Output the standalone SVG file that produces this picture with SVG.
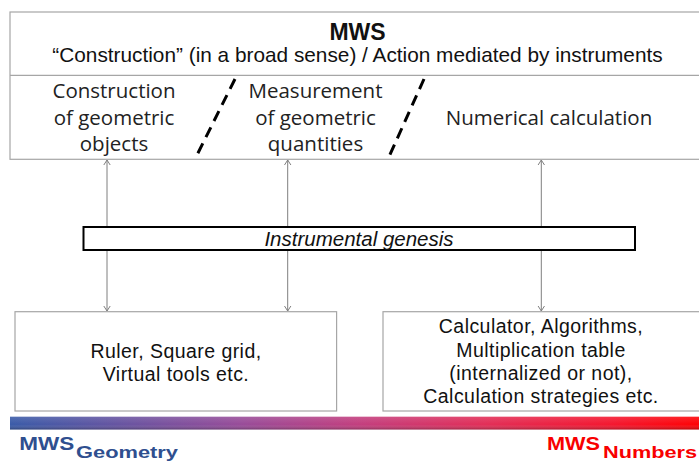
<svg xmlns="http://www.w3.org/2000/svg" width="699" height="462" viewBox="0 0 699 462">
  <defs>
    <style>
      .box { fill: #ffffff; stroke: #a6a6a6; stroke-width: 1.2; }
      .sep { stroke: #a6a6a6; stroke-width: 1.2; }
      .dash { stroke: #000000; stroke-width: 3; stroke-dasharray: 11 7; fill: none; }
      .conn { stroke: #7f7f7f; stroke-width: 1; fill: none; marker-start: url(#arr); marker-end: url(#arr); }
      .arial { font-family: "Liberation Sans", Arial, sans-serif; fill: #111111; }
      .cal { font-family: "Open Sans", "Noto Sans", sans-serif; font-size: 20.5px; fill: #222222; text-anchor: middle; }
      .body { font-size: 19.5px; letter-spacing: 0.45px; text-anchor: middle; }
      .leg { font-family: "Liberation Sans", Arial, sans-serif; font-weight: bold; }
    </style>
    <marker id="arr" viewBox="-6 -4 7 8" refX="0" refY="0" markerWidth="7" markerHeight="8" markerUnits="userSpaceOnUse" orient="auto-start-reverse">
      <path d="M-5,-3.2 L0,0 L-5,3.2" fill="none" stroke="#7f7f7f" stroke-width="1"/>
    </marker>
    <linearGradient id="bar" x1="0" y1="0" x2="1" y2="0">
      <stop offset="0" stop-color="#3a5ba8"/>
      <stop offset="0.33" stop-color="#984c99"/>
      <stop offset="0.5" stop-color="#c33e7e"/>
      <stop offset="0.68" stop-color="#e22e57"/>
      <stop offset="0.86" stop-color="#f4172f"/>
      <stop offset="1" stop-color="#ff0000"/>
    </linearGradient>
    <linearGradient id="shade" x1="0" y1="0" x2="0" y2="1">
      <stop offset="0" stop-color="#ffffff" stop-opacity="0.12"/>
      <stop offset="0.6" stop-color="#ffffff" stop-opacity="0"/>
      <stop offset="1" stop-color="#000000" stop-opacity="0.28"/>
    </linearGradient>
  </defs>

  <rect width="699" height="462" fill="#ffffff"/>

  <g id="mws-top">
    <rect class="box" x="10" y="12" width="700" height="147.3"/>
    <line class="sep" x1="10" y1="75.3" x2="710" y2="75.3"/>
    <text class="arial" x="357.5" y="40" font-size="23" font-weight="bold" text-anchor="middle">MWS</text>
    <text class="arial" x="357.5" y="62" font-size="20.8" text-anchor="middle">“Construction” (in a broad sense) / Action mediated by instruments</text>
    <line class="dash" x1="235" y1="79" x2="195" y2="159"/>
    <line class="dash" x1="424" y1="79" x2="388" y2="159"/>
    <text class="cal" x="114" y="98">Construction</text>
    <text class="cal" x="114" y="125">of geometric</text>
    <text class="cal" x="114" y="151">objects</text>
    <text class="cal" x="315.5" y="98">Measurement</text>
    <text class="cal" x="315.5" y="125">of geometric</text>
    <text class="cal" x="315.5" y="151">quantities</text>
    <text class="cal" x="549" y="125">Numerical calculation</text>
  </g>

  <g id="tools-geometry">
    <rect class="box" x="15" y="311.7" width="321.6" height="99.3"/>
    <text class="arial body" x="176" y="358">Ruler, Square grid,</text>
    <text class="arial body" x="176" y="381">Virtual tools etc.</text>
  </g>

  <g id="tools-numbers">
    <rect class="box" x="383" y="311.7" width="330" height="99.3"/>
    <text class="arial body" x="541" y="333">Calculator, Algorithms,</text>
    <text class="arial body" x="541" y="356.5">Multiplication table</text>
    <text class="arial body" x="541" y="380">(internalized or not),</text>
    <text class="arial body" x="541" y="403">Calculation strategies etc.</text>
  </g>

  <g id="connectors">
    <line class="conn" x1="107" y1="160" x2="107" y2="311"/>
    <line class="conn" x1="287.7" y1="160" x2="287.7" y2="311"/>
    <line class="conn" x1="541.3" y1="160" x2="541.3" y2="311"/>
  </g>

  <g id="instrumental-genesis">
    <rect x="83.5" y="227" width="551.5" height="23" fill="#ffffff" stroke="#000000" stroke-width="2"/>
    <text class="arial" x="359" y="245.5" font-size="20.5" font-style="italic" text-anchor="middle">Instrumental genesis</text>
  </g>

  <g id="continuum-bar">
    <rect x="10" y="416.7" width="700" height="12.8" fill="url(#bar)"/>
    <rect x="10" y="416.7" width="700" height="12.8" fill="url(#shade)"/>
  </g>

  <g id="label-geometry">
    <text class="leg" fill="#2f4f8f"><tspan x="19.3" y="449.5" font-size="18" textLength="55" lengthAdjust="spacingAndGlyphs">MWS</tspan><tspan x="76" y="457.5" font-size="16.5" textLength="102" lengthAdjust="spacingAndGlyphs">Geometry</tspan></text>
  </g>

  <g id="label-numbers">
    <text class="leg" fill="#f80000"><tspan x="547" y="449.5" font-size="18" textLength="53" lengthAdjust="spacingAndGlyphs">MWS</tspan><tspan x="603" y="457.5" font-size="16.5" textLength="94" lengthAdjust="spacingAndGlyphs">Numbers</tspan></text>
  </g>
</svg>
